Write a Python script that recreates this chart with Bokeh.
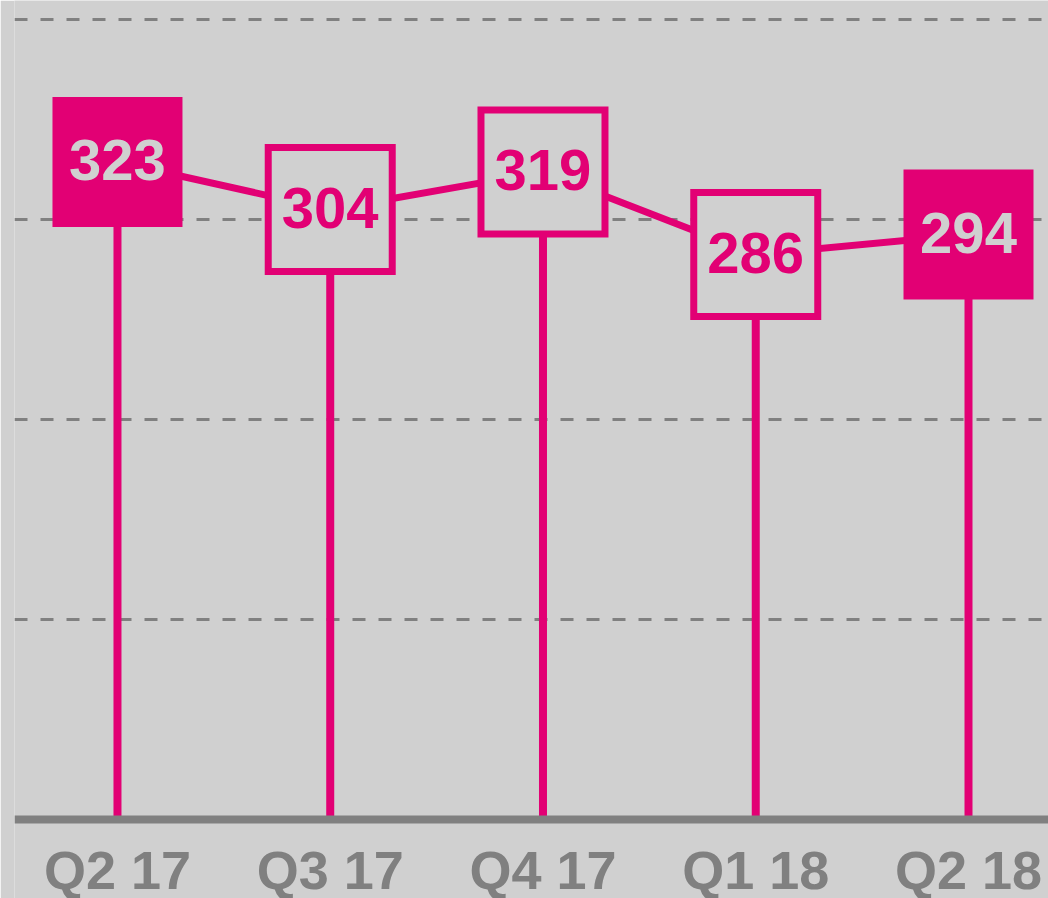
from bokeh.plotting import figure
from bokeh.models import Range1d, FixedTicker, Span, ColumnDataSource
from bokeh.core.properties import value
from bokeh.embed import file_html
from bokeh.resources import INLINE

# ---- data ----
quarters = ["Q2 17", "Q3 17", "Q4 17", "Q1 18", "Q2 18"]
values = [323, 304, 319, 286, 294]
grid_ticks = [140, 220, 300, 380]
baseline_value = 60

# ---- style ----
MAGENTA = "#e20074"
BG = "#d0d0d0"
GRAY = "#808080"
FONT = "Liberation Sans Narrow, Liberation Sans"

xs = list(range(len(quarters)))
filled = [q.startswith("Q2") for q in quarters]

p = figure(width=1048, height=898, output_backend="svg", toolbar_location=None,
           x_range=Range1d(-0.484, 4.376), y_range=Range1d(28.4, 387.6),
           x_axis_location=None, y_axis_location=None,
           min_border_left=14, min_border_right=0, min_border_top=0, min_border_bottom=0)
p.outline_line_color = None
p.background_fill_color = BG
p.border_fill_color = BG
p.xgrid.visible = False
p.ygrid.ticker = FixedTicker(ticks=grid_ticks)
p.ygrid.grid_line_color = GRAY
p.ygrid.grid_line_width = 3
p.ygrid.grid_line_dash = "13 13"

# stems
p.segment(x0=xs, y0=[baseline_value] * len(xs), x1=xs, y1=values,
          line_width=8, line_color=MAGENTA)
# connecting line
p.line(xs, values, line_width=7, line_color=MAGENTA)

fx = [x for x, f in zip(xs, filled) if f]
fy = [v for v, f in zip(values, filled) if f]
ox = [x for x, f in zip(xs, filled) if not f]
oy = [v for v, f in zip(values, filled) if not f]

p.rect(fx, fy, width=130, height=130, width_units="screen", height_units="screen",
       fill_color=MAGENTA, line_color=None)
p.rect(ox, oy, width=124, height=124, width_units="screen", height_units="screen",
       fill_color=BG, line_color=MAGENTA, line_width=7, line_join="miter")

src = ColumnDataSource(dict(x=xs, y=values, t=[str(v) for v in values],
                            c=[BG if f else MAGENTA for f in filled]))
p.text("x", "y", text="t", source=src, text_color="c", text_align="center",
       text_baseline="middle", y_offset=-2,
       text_font=value(FONT), text_font_style="bold", text_font_size="58px")

# baseline
p.add_layout(Span(location=baseline_value, dimension="width",
                  line_color=GRAY, line_width=8))

# category labels
label_y = 40.0
p.text(xs, [label_y] * len(xs), text=quarters, text_color=GRAY, text_align="center",
       text_baseline="middle", text_font=value(FONT), text_font_style="bold",
       text_font_size="54px")

open("out.html", "w").write(file_html(p, INLINE))
